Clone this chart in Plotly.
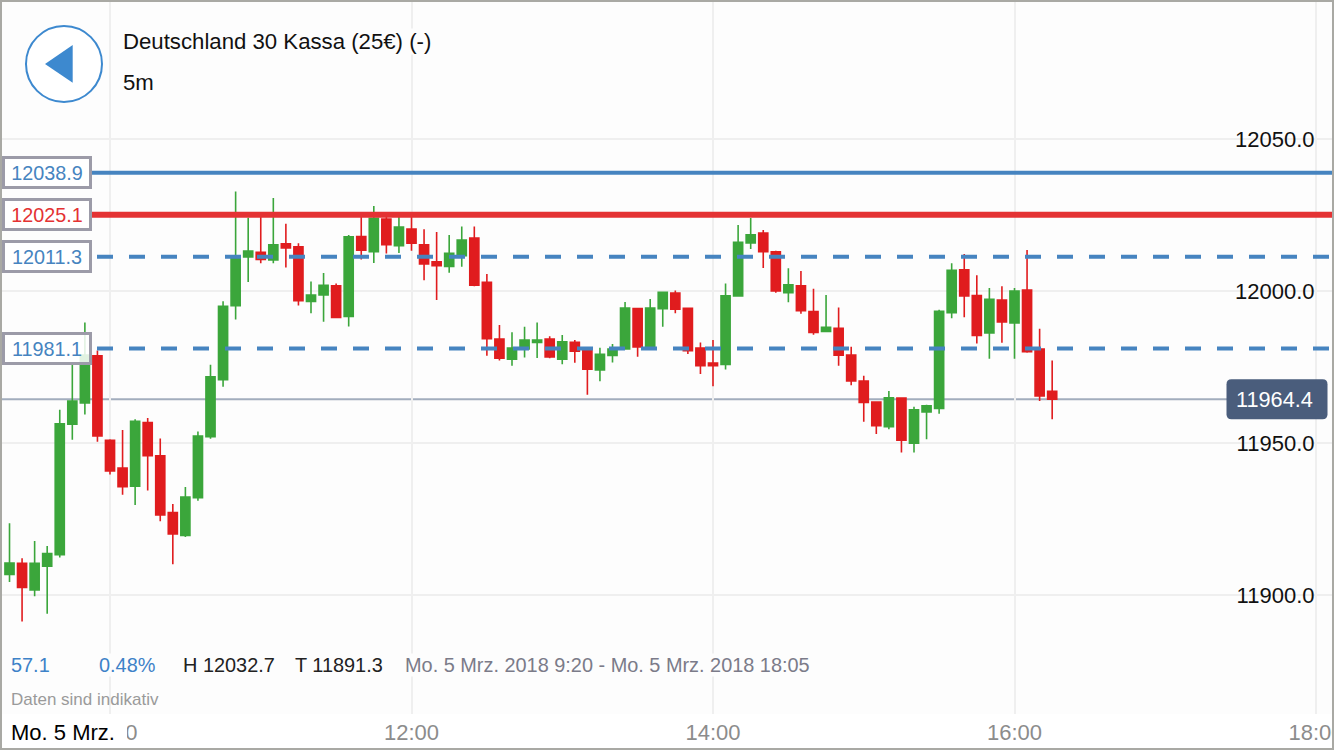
import plotly.graph_objects as go

W, H, PLOT_H = 1334, 750, 714

times = ["09:20","09:25","09:30","09:35","09:40","09:45","09:50","09:55","10:00","10:05","10:10","10:15",
         "10:20","10:25","10:30","10:35","10:40","10:45","10:50","10:55","11:00","11:05","11:10","11:15",
         "11:20","11:25","11:30","11:35","11:40","11:45","11:50","11:55","12:00","12:05","12:10","12:15",
         "12:20","12:25","12:30","12:35","12:40","12:45","12:50","12:55","13:00","13:05","13:10","13:15",
         "13:20","13:25","13:30","13:35","13:40","13:45","13:50","13:55","14:00","14:05","14:10","14:15",
         "14:20","14:25","14:30","14:35","14:40","14:45","14:50","14:55","15:00","15:05","15:10","15:15",
         "15:20","15:25","15:30","15:35","15:40","15:45","15:50","15:55","16:00","16:05","16:10","16:15"]
open_ = [11906.8,11910.4,11901.7,11909.5,11913.3,11956.2,11963.2,11978.7,11950.9,11941.8,11935.8,11956.7,
         11945.8,11927.1,11919.6,11932.0,11952.1,11970.8,11995.2,12011.2,12012.7,12010.2,12015.5,12014.5,
         11996.6,11998.7,12001.7,11991.6,12017.9,12012.9,12023.7,12014.9,12020.4,12015.2,12009.6,12008.1,
         12011.6,12017.4,12002.9,11984.2,11977.6,11980.9,11983.1,11984.2,11977.6,11983.1,11980.6,11974.0,
         11978.8,11980.9,11994.2,11981.2,11994.2,11999.3,11994.3,11981.2,11976.3,11975.8,11998.4,12015.8,
         12019.1,12012.9,11999.4,12001.7,11993.2,11986.7,11987.7,11978.9,11970.4,11963.5,11955.4,11964.8,
         11949.9,11960.2,11961.4,11992.9,12007.0,11998.5,11986.2,11997.0,11989.5,12000.3,11980.9,11967.0]
high = [11923.6,11912.1,11917.8,11916.1,11960.9,11975.7,11989.6,11980.4,11951.2,11954.3,11957.8,11958.2,
        11951.5,11929.9,11935.5,11953.8,11975.7,11996.6,12032.7,12024.1,12025.3,12030.6,12022.1,12015.7,
        12003.1,12005.9,12002.5,12018.4,12025.0,12028.0,12024.5,12025.4,12025.0,12020.3,12019.4,12018.4,
        12021.2,12021.2,12005.6,11988.8,11986.4,11988.2,11989.6,11985.1,11985.5,11983.9,11981.2,11981.3,
        11982.6,11996.4,11994.4,11997.4,11999.7,12000.2,11994.6,11983.1,11983.9,12002.5,12021.7,12024.0,
        12020.1,12013.2,12007.5,12006.6,12000.7,11998.7,11994.6,11981.7,11972.1,11963.7,11967.1,11965.0,
        11961.9,11962.6,11993.8,12009.1,12012.2,12005.2,12001.0,12001.6,12001.0,12013.5,11987.6,11977.1]
low = [11904.3,11891.3,11899.6,11893.8,11912.3,11951.1,11959.4,11950.4,11939.6,11933.0,11929.6,11934.4,
       11924.3,11910.1,11919.1,11931.0,11951.4,11968.5,11990.6,12003.0,12009.1,12009.1,12007.7,11995.2,
       11992.7,11989.9,11991.2,11988.3,12010.4,12009.2,12012.3,12012.5,12013.2,12003.5,11997.0,12006.0,
       12008.0,12001.6,11978.7,11977.1,11975.4,11978.1,11978.0,11977.9,11975.9,11976.4,11965.9,11970.3,
       11976.5,11980.8,11978.4,11981.1,11988.2,11992.7,11979.3,11972.7,11968.7,11974.2,11998.1,12013.8,
       12007.6,11999.4,11996.3,11992.5,11985.6,11986.6,11975.4,11969.0,11957.0,11953.0,11954.5,11946.9,
       11946.9,11951.2,11959.6,11991.0,11991.4,11982.7,11977.7,11983.0,11977.7,11979.7,11963.8,11957.8]
close = [11910.5,11902.5,11910.4,11913.6,11956.3,11963.8,11978.9,11952.3,11940.8,11935.6,11957.1,11945.8,
         11926.3,11920.1,11932.2,11952.3,11971.8,11995.0,12011.3,12013.1,12010.4,12015.2,12014.2,11996.8,
         11998.7,12001.9,11991.3,12017.8,12013.4,12023.9,12015.2,12021.0,12015.7,12008.9,12008.3,12012.4,
         12016.8,12001.9,11984.3,11977.9,11981.2,11983.9,11983.9,11978.3,11983.3,11980.2,11974.3,11979.2,
         11980.9,11994.4,11981.6,11994.4,11999.6,11994.0,11980.4,11975.4,11975.4,11998.4,12016.0,12018.5,
         12012.9,12000.0,12002.0,11993.5,11986.4,11988.1,11978.9,11970.4,11963.3,11955.7,11964.9,11950.9,
         11960.9,11962.2,11993.3,12006.8,11998.4,11985.4,11997.3,11989.8,12000.0,11980.0,11965.5,11964.4]

x_tick_labels = ["10:00", "12:00", "14:00", "16:00", "18:00"]
level_solid = [12038.9, 12025.1]
level_solid_colors = ["#4684c0", "#e43233"]
level_solid_widths = [4, 6]
level_dashed = [12011.3, 11981.1]
last_price = 11964.4

date = "2018-03-05 "
x = [date + t for t in times]

GREEN = "#3ba63b"
RED = "#e01c1e"
BLUE = "#4684c0"
BOX = "#9c9ba8"
BG = "#fdfdfd"
FONT = "Liberation Sans"


def px(v):
    return v / W


def py(v):
    return 1 - v / PLOT_H


fig = go.Figure()
fig.add_trace(go.Candlestick(
    x=x, open=open_, high=high, low=low, close=close,
    increasing=dict(line=dict(color=GREEN, width=1.6), fillcolor=GREEN),
    decreasing=dict(line=dict(color=RED, width=1.6), fillcolor=RED),
    whiskerwidth=0, showlegend=False,
))

# price lines
for lvl, col, wid in zip(level_solid, level_solid_colors, level_solid_widths):
    fig.add_shape(type="line", xref="paper", yref="y", x0=px(92), x1=1, y0=lvl, y1=lvl,
                  line=dict(color=col, width=wid), layer="above")
for lvl in level_dashed:
    fig.add_shape(type="line", xref="paper", yref="y", x0=px(97), x1=1, y0=lvl, y1=lvl,
                  line=dict(color=BLUE, width=4, dash="16px,16px"), layer="above")
fig.add_shape(type="line", xref="paper", yref="y", x0=0, x1=px(1228), y0=last_price, y1=last_price,
              line=dict(color="#a2adbd", width=2), layer="below")

# rounded box for the last price
r = 5
hw, hh = 50.5, 20
pill = (f"M {-hw+r} {-hh} L {hw-r} {-hh} Q {hw} {-hh} {hw} {-hh+r} L {hw} {hh-r} Q {hw} {hh} {hw-r} {hh} "
        f"L {-hw+r} {hh} Q {-hw} {hh} {-hw} {hh-r} L {-hw} {-hh+r} Q {-hw} {-hh} {-hw+r} {-hh} Z")
fig.add_shape(type="path", path=pill, xref="paper", yref="y", xsizemode="pixel", ysizemode="pixel",
              xanchor=px(1277), yanchor=last_price, fillcolor="#4a5d7c", line=dict(width=0), layer="above")

# back button
fig.add_shape(type="circle", xref="paper", yref="paper", x0=px(26), x1=px(102), y0=py(102), y1=py(26),
              fillcolor="white", line=dict(color="#3d89cf", width=2), layer="above")
tri = f"M {px(45)} {py(64)} L {px(72.7)} {py(45)} L {px(72.7)} {py(82.7)} Z"
fig.add_shape(type="path", path=tri, xref="paper", yref="paper", fillcolor="#3d89cf", line=dict(width=0), layer="above")

# white patch behind the date, hides most of the 10:00 tick
fig.add_shape(type="rect", xref="paper", yref="paper", x0=px(2), x1=px(127), y0=py(748), y1=py(716),
              fillcolor="white", line=dict(width=0), layer="above")

# outer frame
fig.add_shape(type="rect", xref="paper", yref="paper", x0=0, x1=1, y0=py(H), y1=1,
              line=dict(color="#a9a9a4", width=4), layer="above")


def label(text, xp, yp, size, color, bg=None, anchor="left"):
    fig.add_annotation(text=text, xref="paper", yref="paper", x=px(xp), y=py(yp), xanchor=anchor, yanchor="middle",
                       showarrow=False, font=dict(family=FONT, size=size, color=color),
                       bgcolor=bg, borderpad=0)


label("Deutschland 30 Kassa (25€) (-)", 122, 41, 22.2, "#111111", BG)
label("5m", 122, 82, 22.2, "#111111", BG)
label("57.1", 10, 665, 19.9, "#3d82c8", BG)
label("0.48%", 98, 665, 19.9, "#3d82c8", BG)
label("H 12032.7", 182, 665, 19.9, "#222222", BG)
label("T 11891.3", 294, 665, 19.9, "#222222", BG)
label("Mo. 5 Mrz. 2018 9:20 - Mo. 5 Mrz. 2018 18:05", 404, 665, 19.9, "#7b7b89", BG)
label("Daten sind indikativ", 10, 699, 17, "#9a9a9a")
label("Mo. 5 Mrz.", 10, 733, 22, "#000000")

# boxes for the price levels
level_labels = [(level_solid[0], BLUE), (level_solid[1], "#e43233"),
                (level_dashed[0], BLUE), (level_dashed[1], BLUE)]
for lvl, col in level_labels:
    fig.add_annotation(text=f"{lvl:.1f}", xref="paper", yref="y", x=px(2), y=lvl, xanchor="left", yanchor="middle",
                       showarrow=False, font=dict(family=FONT, size=19.8, color=col), width=84, height=27,
                       align="center", bgcolor="rgba(255,255,255,0.85)", bordercolor=BOX, borderwidth=3,
                       borderpad=0)
fig.add_annotation(text=f"{last_price:.1f}", xref="paper", yref="y", x=px(1274), y=last_price, xanchor="center",
                   yanchor="middle", showarrow=False, font=dict(family=FONT, size=21.7, color="white"))

fig.update_layout(
    width=W, height=H, margin=dict(l=0, r=0, t=0, b=H - PLOT_H, pad=0),
    paper_bgcolor="white", plot_bgcolor=BG, showlegend=False, boxgap=0.275, boxgroupgap=0,
    font=dict(family=FONT),
)
fig.update_xaxes(
    type="date", range=["2018-03-05 09:16:13", "2018-03-05 18:07:10"], rangeslider_visible=False,
    tickvals=[date + t for t in x_tick_labels], ticktext=x_tick_labels, ticklabeloverflow="allow", automargin=False,
    showgrid=True, gridcolor="#efefef", gridwidth=2, zeroline=False, showline=False, ticks="", ticklabelstandoff=3,
    tickfont=dict(family=FONT, size=22, color="#8c8c8c"),
)
# left-side labels on an axis parked near the right edge, so they sit in the plot like in the app
fig.update_yaxes(
    side="left", anchor="free", position=px(1314.5), automargin=False, range=[11860.86, 12095.72], tick0=11900, dtick=50,
    tickformat=".1f", showgrid=True, gridcolor="#efefef", gridwidth=2, zeroline=False, showline=False, ticks="",
    tickfont=dict(family=FONT, size=22, color="#111111"),
)

fig.write_html("out.html", post_script="document.body.style.margin='0';", config=dict(displayModeBar=False))
